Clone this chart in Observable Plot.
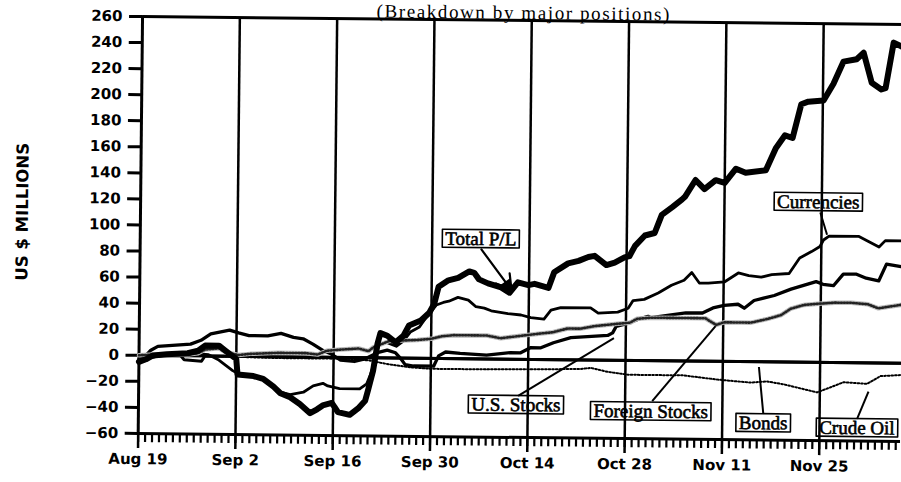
<!DOCTYPE html>
<html><head><meta charset="utf-8">
<script src="https://cdn.jsdelivr.net/npm/d3@7"></script>
<script src="https://cdn.jsdelivr.net/npm/@observablehq/plot@0.6"></script>
<style>
html,body{margin:0;padding:0;background:#fff;overflow:hidden;width:901px;height:482px}
#wrap{position:absolute;left:0;top:0;width:901px;height:482px;transform:rotate(0.6deg);transform-origin:139px 355px}
#title{position:absolute;left:373px;top:0px;white-space:nowrap;font:19px/17px "Liberation Serif",serif;letter-spacing:1.6px;color:#000}
#ylab{position:absolute;left:21px;top:213px;transform:translate(-50%,-50%) rotate(-90deg);font:bold 16.5px "DejaVu Sans",sans-serif;white-space:nowrap;color:#000}
#chart{position:absolute;left:0;top:0}
</style></head>
<body>
<div id="wrap">
  <div id="title">(Breakdown by major positions)</div>
  <div id="ylab">US $ MILLIONS</div>
  <div id="chart"></div>
</div>
<script>
// day index: 0 = Aug 19
const tickDays = [0, 14, 28, 42, 56, 70, 84, 98];
const tickLabels = ["Aug 19", "Sep 2", "Sep 16", "Sep 30", "Oct 14", "Oct 28", "Nov 11", "Nov 25"];
const yTicks = [-60, -40, -20, 0, 20, 40, 60, 80, 100, 120, 140, 160, 180, 200, 220, 240, 260];

const totalDays = [0,1,2,4,7,8.5,9.5,11.5,12.5,13.5,14,14.2,16.5,17.9,19.4,20.4,21.8,23.2,24.7,25.7,26.5,27.8,28.2,28.7,30.4,31.6,32.6,33,33.7,34.3,34.7,35.7,36.9,38,38.8,40.5,41.7,42.4,43,44.4,45.8,47.4,48.1,48.8,50.1,52,53.2,54.4,55.9,56.8,58.8,59.6,61.6,63.1,64.5,65.4,67.1,68.3,69.7,70.4,71.2,72.6,74,75,76.5,77.9,78.3,79.8,81.1,82.7,84,85.6,87,89.9,91.3,92.6,93.7,94.9,95.9,98.1,99.5,100.9,102.8,103.8,105,106.4,107,108.1,109.7];
const totalVals = [-5,-3,0,1,2,4,8,8,4,0,-2,-14,-15,-17,-23,-28,-31,-36,-43,-40,-37,-35,-38,-42,-44,-39,-33,-25,-10,11,19,17,12,17,25,29,35,42,55,60,62,67,66,61,58,55,51,59,57,58,55,67,74,76,79,80,73,75,79,80,88,96,98,112,118,124,126,139,132,139,137,148,145,147,164,174,172,198,200,201,214,231,233,238,215,210,211,246,242];

const currencyDays = [0,2,5,8,10,11.5,12.5,13.5,14.5,16.5,18,20.4,21.8,23.7,25.1,26.5,27.2,28.9,31.8,32.8,33.4,33.9,34.5,35.5,37,38,39,40.3,41.2,42.7,43.7,44.5,45.8,47.3,48.4,49.6,50.6,53,54.9,56.3,58.2,59.2,60.6,64.9,66,68.8,70.3,71,72.6,74.6,76.5,78.3,79.4,80.5,81.8,84.1,86.1,87.6,89.4,90.9,93.4,94.9,96.6,97.8,98.3,99.1,103.4,104.5,106.3,107.2,109.7];
const currencyVals = [-5,-1,1,2,1,-3,-7,-11,-14,-15,-18,-27,-29,-27,-22,-20,-22,-24,-24,-20,-12,-2,10,12,9,13,20,24,31,41,43,44,47,45,40,39,37,35,34,32,31,38,40,40,36,37,40,46,47,52,58,62,68,60,60,61,68,66,65,67,68,80,85,89,94,97,97,94,89,94,94];

const usDays = [0,1,1.7,2.7,7.4,8.9,10.3,13,14.3,15.8,18.5,20.4,22.2,23.6,25,26.5,27.5,29,31,32.5,34.3,35.7,36.9,37.6,38.3,39.5,42.4,43.1,44.1,46.2,50,53.4,54.9,56.3,57.8,59.6,62.1,64.5,67.4,68.1,68.6,70,71.9,73.2,73.6,78.6,81,82.5,84.1,86.1,87,88.4,91.3,93.7,95.5,97.3,98.3,99.8,101.2,103.1,104.5,106.3,107.4,109.7];
const usVals = [-3,0,4,7,9,12,17,20,18,16,16,18,15,14,10,5,3,-2,-3,-1,4,6,4,0,-5,-6,-6,2,5,4,3,5,5,9,9,13,17,18,19,21,26,28,32,34,33,37,37,41,43,44,41,47,51,56,59,62,60,59,68,68,65,63,76,74];

const foreignDays = [0,3,7,8.5,9.5,11.5,12.5,14.3,16,20,24,25.7,27,29,31.6,33,33.7,36,40,42,43.5,45.3,50,52,54.9,57.8,59.5,61.6,63.5,65.4,68.8,70.6,71.6,73.6,78.6,81.4,83,84.1,86.5,88,90.4,92.3,93.7,95.6,97.6,100,102.4,104.8,106.3,109.7];
const foreignVals = [0,1,1,2,5,6,3,1,2,3,3,2,5,6,7,5,8,13,14,15,17,18,18,16,18,20,21,24,24,26,28,29,32,33,33,33,28,30,30,30,33,36,41,44,45,46,46,45,42,45];

const bondDays = [0,1.5,3,6,6.5,9,9.5,109.7];
const bondVals = [-5,-2,0,0,-3,-4,0,0];

const crudeDays = [0,10,20,30,33,36,39,42,50,63.5,65,67.5,70.4,73.3,78.3,83.3,88,90.4,92.7,97.6,100,101.4,104.8,106.7,109.7];
const crudeVals = [0,0,-1,-1,-2,-5,-7,-8,-8,-7,-6,-9,-11,-11,-11,-14,-16,-15,-17,-23,-18,-15,-16,-10,-9];

// callout labels (anchored in chart units: day, US$ millions)
const labelTexts = ["Total P/L", "Currencies", "U.S. Stocks", "Foreign Stocks", "Bonds", "Crude Oil"];
const labelDays = [49.0, 97.5, 54.3, 73.7, 89.9, 103.4];
const labelVals = [92, 123, -35, -39, -47, -50];
const leaderFromDays = [49.1, 97.8, 54.6, 73.9, 89.9, 103.4];
const leaderFromVals = [84, 115, -28, -31, -40, -43];
const leaderToDays = [53.5, 98.8, 68.3, 82.9, 89.2, 105.0];
const leaderToVals = [53, 98, 17, 27, -4, -22];

const rows = (ds, vs) => ds.map((d, i) => ({d, v: vs[i]}));
const total = rows(totalDays, totalVals);
const currencies = rows(currencyDays, currencyVals);
const us = rows(usDays, usVals);
const foreign = rows(foreignDays, foreignVals);
const bonds = rows(bondDays, bondVals);
const crude = rows(crudeDays, crudeVals);
const labels = labelTexts.map((t, i) => ({t, d: labelDays[i], v: labelVals[i]}));
const leaders = labelTexts.map((t, i) => ({t, x1: leaderFromDays[i], y1: leaderFromVals[i], x2: leaderToDays[i], y2: leaderToVals[i]}));
const arrowLeader = leaders.filter(l => l.t === "Total P/L");
const plainLeaders = leaders.filter(l => l.t !== "Total P/L");
// filled head placed just behind the arrow tip
const arrowHead = arrowLeader.map(l => ({d: l.x2 - (l.x2 - l.x1) * 0.14, v: l.y2 - (l.y2 - l.y1) * 0.14}));
const dailyDays = d3.range(0, 110);

const chart = Plot.plot({
  width: 901, height: 482,
  marginTop: 16, marginBottom: 49, marginLeft: 138.5, marginRight: 0,
  x: {domain: [0, 109.7]},
  y: {domain: [-60, 260]},
  style: {background: "transparent", fontFamily: "DejaVu Sans, sans-serif", color: "#000"},
  marks: [
    Plot.axisY(yTicks, {tickSize: 13, tickPadding: 7, strokeWidth: 3, fontSize: 15, fontWeight: "bold", label: null}),
    Plot.axisX(dailyDays, {tickSize: 9, strokeWidth: 2.2, tickFormat: () => "", label: null}),
    Plot.axisX(tickDays, {tickSize: 15, strokeWidth: 2.5, tickPadding: 5, fontSize: 15, fontWeight: "bold",
      tickFormat: d => tickLabels[tickDays.indexOf(d)], label: null}),
    Plot.ruleX(tickDays.slice(1), {y1: -60, y2: 260, stroke: "#000", strokeWidth: 2.5}),
    Plot.ruleX([0], {y1: -60, y2: 260, stroke: "#000", strokeWidth: 3}),
    Plot.ruleY([260], {stroke: "#000", strokeWidth: 3}),
    Plot.ruleY([-60], {stroke: "#000", strokeWidth: 3}),
    Plot.ruleY([0], {stroke: "#000", strokeWidth: 3}),
    Plot.line(crude, {x: "d", y: "v", stroke: "#000", strokeWidth: 2, strokeDasharray: "1.6,2"}),
    Plot.line(bonds, {x: "d", y: "v", stroke: "#000", strokeWidth: 3}),
    Plot.line(us, {x: "d", y: "v", stroke: "#000", strokeWidth: 3.3}),
    Plot.line(currencies, {x: "d", y: "v", stroke: "#000", strokeWidth: 2.8}),
    Plot.line(foreign, {x: "d", y: "v", stroke: "#b8b8b8", strokeWidth: 4.5}),
    Plot.line(foreign, {x: "d", y: "v", stroke: "#222", strokeWidth: 2.6, strokeDasharray: "1,2"}),
    Plot.line(total, {x: "d", y: "v", stroke: "#000", strokeWidth: 6, strokeLinejoin: "round"}),
    Plot.link(plainLeaders, {x1: "x1", y1: "y1", x2: "x2", y2: "y2", stroke: "#000", strokeWidth: 2}),
    Plot.arrow(arrowLeader, {x1: "x1", y1: "y1", x2: "x2", y2: "y2", stroke: "#000", strokeWidth: 2.2, headLength: 13, bend: 0}),
    Plot.dot(arrowHead, {x: "d", y: "v", symbol: "triangle", r: 4.5, fill: "#000", rotate: 144}),
    Plot.text(labels, {x: "d", y: "v", text: "t", fontFamily: "Liberation Serif, serif", fontSize: 19,
      fill: "#000", stroke: "#000", strokeWidth: 0.6})
  ]
});
document.getElementById("chart").appendChild(chart);

// draw frames around the callout labels
const svgNS = "http://www.w3.org/2000/svg";
chart.querySelectorAll("text").forEach(t => {
  if (!labelTexts.includes(t.textContent)) return;
  const b = t.getBBox();
  const r = document.createElementNS(svgNS, "rect");
  r.setAttribute("x", b.x - 3);
  r.setAttribute("y", b.y + 1.5);
  r.setAttribute("width", b.width + 6);
  r.setAttribute("height", b.height - 3);
  r.setAttribute("fill", "none");
  r.setAttribute("stroke", "#000");
  r.setAttribute("stroke-width", 1.6);
  const tr = t.getAttribute("transform");
  if (tr) r.setAttribute("transform", tr);
  t.parentNode.insertBefore(r, t);
});
</script>
</body></html>
